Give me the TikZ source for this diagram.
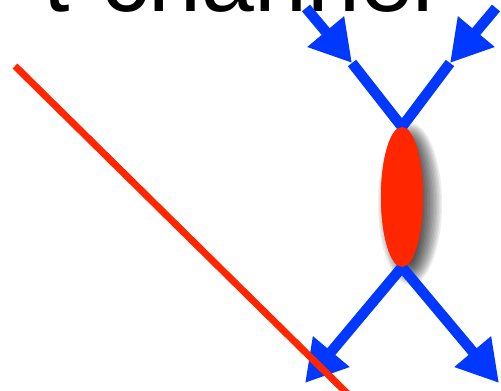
\documentclass[tikz,border=0pt]{standalone}
\usepackage{fontspec}
\setmainfont{Liberation Sans}
\usetikzlibrary{arrows.meta,shapes.geometric}
\definecolor{fblue}{RGB}{0,56,255}
\definecolor{fred}{RGB}{255,38,0}
\begin{document}
\begin{tikzpicture}[x=1pt,y=-1pt,
  fermion/.style={draw=fblue,line width=10.5pt,line cap=butt},
  headarrow/.style={-{Triangle[length=41pt,width=45pt]}},
  spectator/.style={draw=fred,line width=7pt},
  blobshape/.style={ellipse,fill=fred,minimum width=42pt,minimum height=140pt,inner sep=0pt}]
\useasboundingbox (0,0) rectangle (501,391);
\clip (0,0) rectangle (501,391);
% title
\node[anchor=base west,inner sep=0pt,font=\fontsize{95}{95}\selectfont] (title) at (43,11) {t-channel};
% shadow of blob
\foreach \d in {-10,-8.5,...,11}{
  \fill[black,opacity=0.07] (410,204) ellipse [x radius=21+\d, y radius=70+\d];
}
% coordinates
\coordinate (a1) at (306,8);
\coordinate (t1) at (352,63);
\coordinate (a2) at (496,8);
\coordinate (t2) at (450,63);
\coordinate (b1) at (305,383);
\coordinate (b2) at (499,383);
\coordinate (r1) at (15,66);
\coordinate (r2) at (360,406);
\node[blobshape] (blob) at (402,197) {};
% fermion lines
\draw[fermion,headarrow] (a1) -- (t1);
\draw[fermion] (t1) -- (blob.north);
\draw[fermion,headarrow] (a2) -- (t2);
\draw[fermion] (t2) -- (blob.north);
\draw[fermion,headarrow] (blob.south) -- (b1);
\draw[fermion,headarrow] (blob.south) -- (b2);
\node[blobshape] (blobtop) at (blob.center) {};
% spectator line
\draw[spectator] (r1) -- (r2);
\end{tikzpicture}
\end{document}
